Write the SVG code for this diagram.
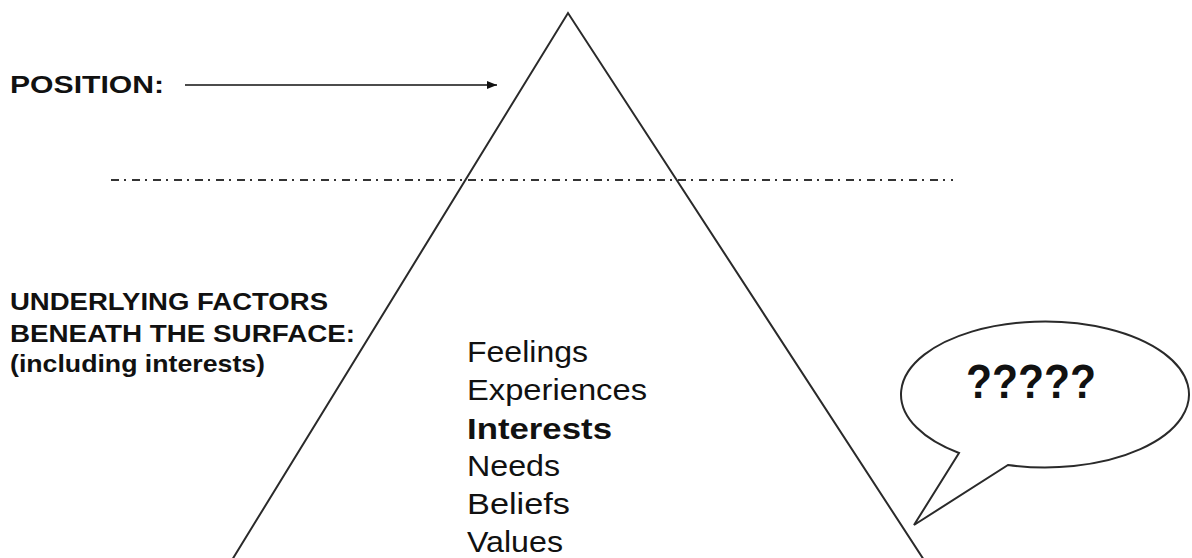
<svg xmlns="http://www.w3.org/2000/svg" width="1192" height="558" viewBox="0 0 1192 558">
<defs>
<style>
.ln{fill:none;stroke:#2a2a2a;stroke-width:2}
.cap{font-family:"Liberation Sans",Arial,sans-serif;font-weight:bold;font-size:24px;fill:#111}
.lst{font-family:"Liberation Sans",Arial,sans-serif;font-size:30px;fill:#111}
</style>
<marker id="ah" viewBox="0 0 10 8" refX="10" refY="4" markerWidth="10" markerHeight="8" markerUnits="userSpaceOnUse" orient="auto">
<path d="M0,0 L10,4 L0,8 Z" fill="#111"/>
</marker>
</defs>
<rect width="1192" height="558" fill="#fff"/>
<g id="pyramid">
<polyline class="ln" points="232,560 568,13 924,560"/>
</g>
<g id="surface">
<line x1="111" y1="180" x2="953" y2="180" stroke="#333" stroke-width="2" stroke-dasharray="8 5 2 6"/>
</g>
<g id="position-label">
<text class="cap" x="10" y="93" textLength="154" lengthAdjust="spacingAndGlyphs">POSITION:</text>
</g>
<g id="connectors">
<line x1="185" y1="85" x2="497" y2="85" stroke="#111" stroke-width="1.6" marker-end="url(#ah)"/>
</g>
<g id="underlying-label">
<text class="cap" x="10" y="310" textLength="318" lengthAdjust="spacingAndGlyphs">UNDERLYING FACTORS</text>
<text class="cap" x="10" y="342" textLength="345" lengthAdjust="spacingAndGlyphs">BENEATH THE SURFACE:</text>
<text class="cap" x="10" y="372" textLength="255" lengthAdjust="spacingAndGlyphs">(including interests)</text>
</g>
<g id="factors">
<text class="lst" x="467" y="362" textLength="121" lengthAdjust="spacingAndGlyphs">Feelings</text>
<text class="lst" x="467" y="400" textLength="180" lengthAdjust="spacingAndGlyphs">Experiences</text>
<text class="lst" x="467" y="439" font-weight="bold" textLength="145" lengthAdjust="spacingAndGlyphs">Interests</text>
<text class="lst" x="467" y="476" textLength="93" lengthAdjust="spacingAndGlyphs">Needs</text>
<text class="lst" x="467" y="514" textLength="103" lengthAdjust="spacingAndGlyphs">Beliefs</text>
<text class="lst" x="467" y="552" textLength="96" lengthAdjust="spacingAndGlyphs">Values</text>
</g>
<g id="speech-bubble">
<path class="ln" d="M959,453 L914,525 L1008,465 A144,73 0 1 0 959,453 Z" fill="#fff"/>
<text x="966" y="398" font-family="'Liberation Sans',Arial,sans-serif" font-weight="bold" font-size="48" fill="#111" textLength="130" lengthAdjust="spacingAndGlyphs">?????</text>
</g>
</svg>
